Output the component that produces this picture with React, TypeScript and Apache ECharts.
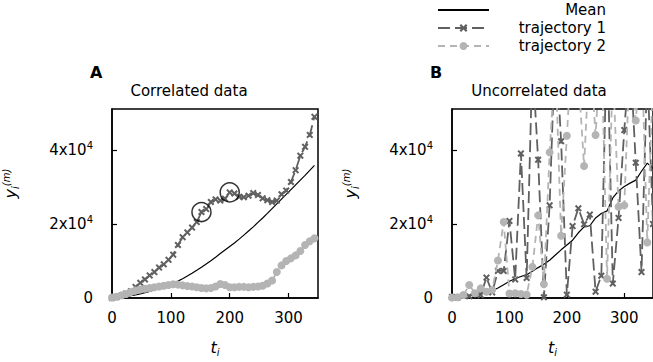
import { useEffect, useRef } from 'react';
import * as echarts from 'echarts';

// Panel A: correlated data, sampled every 8 time units
const tA = [0, 8, 16, 24, 32, 40, 48, 56, 64, 72, 80, 88, 96, 104, 112, 120, 128, 136, 144, 152, 160, 168, 176, 184, 192, 200, 208, 216, 224, 232, 240, 248, 256, 264, 272, 280, 288, 296, 304, 312, 320, 328, 336, 344];
const meanA = [0, 95, 230, 400, 610, 850, 1130, 1440, 1790, 2150, 2550, 2990, 3460, 3980, 4560, 5200, 5920, 6700, 7500, 8320, 9200, 10080, 11020, 11980, 12940, 13900, 14860, 15880, 16960, 18080, 19200, 20400, 21600, 22840, 24120, 25400, 26680, 27960, 29240, 30520, 31800, 33080, 34420, 35780];
const trajectory1A = [0, 300, 700, 1200, 1800, 3000, 4100, 5000, 6100, 7000, 8200, 9100, 10300, 11700, 14300, 16400, 17700, 19000, 20500, 23200, 24000, 25900, 26600, 26300, 26800, 28500, 28200, 27300, 27200, 27600, 28300, 27800, 26900, 26400, 25900, 26300, 28000, 29000, 31300, 34500, 38400, 40800, 44000, 48900];
const trajectory2A = [100, 350, 700, 1100, 1600, 2000, 2300, 2500, 2700, 2900, 3100, 3300, 3500, 3700, 3600, 3400, 3200, 3100, 2900, 2700, 2600, 2700, 3100, 3800, 3500, 2900, 2900, 3000, 3000, 2900, 3000, 3100, 3300, 3900, 4700, 7000, 8800, 10000, 10700, 11500, 12700, 14300, 15300, 16100];
// indices of the two circled points on trajectory 1
const circledA = [19, 25];

// Panel B: uncorrelated data, sampled every 10 time units
const tB = [0, 10, 20, 30, 40, 50, 60, 70, 80, 90, 100, 110, 120, 130, 140, 150, 160, 170, 180, 190, 200, 210, 220, 230, 240, 250, 260, 270, 280, 290, 300, 310, 320, 330, 340, 350];
const meanB = [0, 200, 450, 750, 1000, 1300, 1650, 2000, 2700, 3600, 4500, 5200, 5800, 6300, 7200, 8200, 9100, 10200, 11600, 13000, 14300, 15600, 17600, 19200, 19500, 21600, 22800, 23500, 27000, 28900, 30100, 31000, 31800, 34200, 36400, 35000];
const trajectory1B = [300, 150, 700, 500, 1200, 800, 5500, 1500, 7300, 7300, 20800, 5000, 39000, 5400, 64000, 37300, 200, 25000, 70000, 42300, 900, 19400, 24200, 19900, 22500, 1700, 6000, 72000, 3900, 21600, 45300, 66000, 36500, 7000, 62000, 20000];
const trajectory2B = [100, 200, 800, 3500, 1300, 2600, 1700, 2200, 10100, 20500, 1200, 1300, 1100, 900, 8400, 22300, 3700, 39300, 65000, 16800, 43800, 70000, 60000, 35600, 68000, 44000, 70000, 5200, 62000, 24600, 25000, 66000, 47900, 68000, 15000, 60000];

const xMax = 350;
const yMax = 51000;
const xStep = 100;
const yStep = 20000;

const FONT = 'DejaVu Sans';
const DARK = '#606060';
const LIGHT = '#b4b4b4';
const CROSS = 'path://M0,2L2,0L5,3L8,0L10,2L7,5L10,8L8,10L5,7L2,10L0,8L3,5Z';

const pairs = (t: number[], v: number[]) => t.map((x, i) => [x, v[i]]);

const yLabel = (v: number) => (v === 0 ? '0' : `{m|${v / 10000}x10}{s|4}`);

function xAxis(gridIndex: number) {
  return {
    gridIndex,
    type: 'value',
    min: 0,
    max: xMax,
    interval: xStep,
    axisLine: { show: true, onZero: false, lineStyle: { color: '#000', width: 1.5 } },
    axisTick: { show: true, inside: true, length: 5, lineStyle: { color: '#000', width: 1.2 } },
    splitLine: { show: false },
    axisLabel: { color: '#000', fontSize: 15, fontFamily: FONT, margin: 12, showMaxLabel: false },
    name: '{t|t}{i|i}',
    nameLocation: 'middle',
    nameGap: 40,
    nameTextStyle: {
      rich: {
        t: { fontStyle: 'italic', fontSize: 16, color: '#000', fontFamily: FONT },
        i: { fontStyle: 'italic', fontSize: 10, color: '#000', fontFamily: FONT, padding: [9, 0, 0, 0] },
      },
    },
  };
}

function yAxis(gridIndex: number) {
  return {
    gridIndex,
    type: 'value',
    min: 0,
    max: yMax,
    interval: yStep,
    axisLine: { show: true, lineStyle: { color: '#000', width: 1.5 } },
    axisTick: { show: true, inside: true, length: 5, lineStyle: { color: '#000', width: 1.2 } },
    splitLine: { show: false },
    axisLabel: {
      color: '#000',
      fontSize: 15,
      fontFamily: FONT,
      margin: 19,
      showMaxLabel: false,
      formatter: yLabel,
      rich: {
        m: { fontSize: 15, color: '#000', fontFamily: FONT },
        s: { fontSize: 10, color: '#000', fontFamily: FONT, padding: [0, 0, 9, 0] },
      },
    },
    name: '{y|y}{i|i}{m|(m)}',
    nameLocation: 'middle',
    nameRotate: 90,
    nameGap: 92,
    nameTextStyle: {
      padding: [0, 0, 0, 40],
      rich: {
        y: { fontStyle: 'italic', fontSize: 16, color: '#000', fontFamily: FONT },
        i: { fontStyle: 'italic', fontSize: 10, color: '#000', fontFamily: FONT, padding: [9, 0, 0, 0] },
        m: { fontStyle: 'italic', fontSize: 10, color: '#000', fontFamily: FONT, padding: [0, 0, 9, 0] },
      },
    },
  };
}

function panelSeries(idx: number, t: number[], mean: number[], tr1: number[], tr2: number[]) {
  return [
    {
      name: 'Mean',
      type: 'line',
      xAxisIndex: idx,
      yAxisIndex: idx,
      data: pairs(t, mean),
      symbol: 'none',
      showSymbol: false,
      lineStyle: { color: '#000', width: 1.2 },
      itemStyle: { color: '#000' },
      z: 2,
    },
    {
      name: 'trajectory 1',
      type: 'line',
      xAxisIndex: idx,
      yAxisIndex: idx,
      data: pairs(t, tr1),
      symbol: CROSS,
      symbolSize: 7,
      showAllSymbol: true,
      lineStyle: { color: DARK, width: 1.8, type: [12, 5] },
      itemStyle: { color: DARK },
      z: 3,
    },
    {
      name: 'trajectory 2',
      type: 'line',
      xAxisIndex: idx,
      yAxisIndex: idx,
      data: pairs(t, tr2),
      symbol: 'circle',
      symbolSize: 8,
      showAllSymbol: true,
      lineStyle: { color: LIGHT, width: 1.8, type: [7, 5] },
      itemStyle: { color: LIGHT },
      z: 4,
    },
  ];
}

export default function App() {
  const ref = useRef<HTMLDivElement>(null);

  useEffect(() => {
    if (!ref.current) return;
    const chart = echarts.init(ref.current, null, { renderer: 'svg' });
    chart.setOption({
      animation: false,
      textStyle: { fontFamily: FONT },
      title: [
        { text: 'A', left: 90, top: 64, padding: 0, textStyle: { fontSize: 16, fontWeight: 'bold', color: '#000', fontFamily: FONT } },
        { text: 'B', left: 430, top: 64, padding: 0, textStyle: { fontSize: 16, fontWeight: 'bold', color: '#000', fontFamily: FONT } },
        { text: 'Correlated data', left: 189, top: 83, padding: 0, textAlign: 'center', textStyle: { fontSize: 15, fontWeight: 'normal', color: '#000', fontFamily: FONT } },
        { text: 'Uncorrelated data', left: 539, top: 83, padding: 0, textAlign: 'center', textStyle: { fontSize: 15, fontWeight: 'normal', color: '#000', fontFamily: FONT } },
      ],
      legend: {
        data: [{ name: 'Mean', itemStyle: { opacity: 0 } }, 'trajectory 1', 'trajectory 2'],
        orient: 'vertical',
        left: 437,
        top: 1,
        padding: 0,
        itemWidth: 51,
        itemHeight: 10,
        itemGap: 0,
        selectedMode: false,
        formatter: (n: string) => `{r|${n}}`,
        textStyle: {
          fontFamily: FONT,
          fontSize: 15,
          color: '#000',
          lineHeight: 18,
          rich: { r: { width: 112, align: 'right', fontSize: 15, lineHeight: 18, color: '#000', fontFamily: FONT } },
        },
      },
      grid: [
        { left: 112, top: 109, width: 206, height: 196, show: true, borderColor: '#000', borderWidth: 1.5, backgroundColor: 'transparent' },
        { left: 452, top: 109, width: 206, height: 196, show: true, borderColor: '#000', borderWidth: 1.5, backgroundColor: 'transparent' },
      ],
      xAxis: [xAxis(0), xAxis(1)],
      yAxis: [yAxis(0), yAxis(1)],
      series: [
        ...panelSeries(0, tA, meanA, trajectory1A, trajectory2A),
        ...panelSeries(1, tB, meanB, trajectory1B, trajectory2B),
        {
          name: 'highlighted',
          type: 'scatter',
          xAxisIndex: 0,
          yAxisIndex: 0,
          data: circledA.map((i) => [tA[i], trajectory1A[i]]),
          symbol: 'circle',
          symbolSize: 19,
          itemStyle: { color: 'rgba(0,0,0,0)', borderColor: '#000', borderWidth: 1.5 },
          z: 5,
        },
      ],
    });
    return () => chart.dispose();
  }, []);

  return <div ref={ref} style={{ position: 'absolute', left: 0, top: 0, width: 653, height: 362 }} />;
}
